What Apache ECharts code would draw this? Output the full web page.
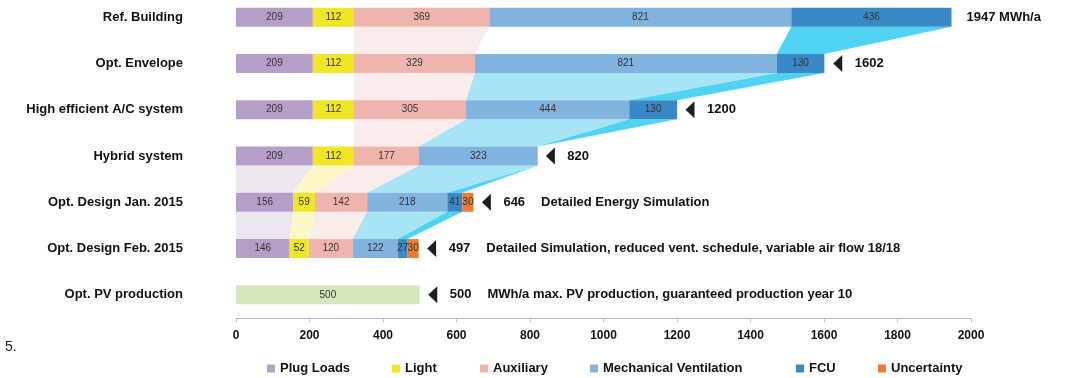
<!DOCTYPE html>
<html>
<head>
<meta charset="utf-8">
<script src="https://cdn.jsdelivr.net/npm/echarts@6/dist/echarts.min.js"></script>
<style>
  html, body { margin: 0; padding: 0; background: #fff; }
  #chart { width: 1066px; height: 378px; }
</style>
</head>
<body>
<div id="chart"></div>
<script>
// Annual energy demand per design stage (MWh/a)
const categories = ['Ref. Building', 'Opt. Envelope', 'High efficient A/C system', 'Hybrid system',
  'Opt. Design Jan. 2015', 'Opt. Design Feb. 2015', 'Opt. PV production'];
const plugLoads   = [209, 209, 209, 209, 156, 146, 0];
const light       = [112, 112, 112, 112, 59, 52, 0];
const auxiliary   = [369, 329, 305, 177, 142, 120, 0];
const mechVent    = [821, 821, 444, 323, 218, 122, 0];
const fcu         = [436, 130, 130, 0, 41, 27, 0];
const uncertainty = [0, 0, 0, 0, 30, 30, 0];
const pvProduction = [0, 0, 0, 0, 0, 0, 500];
const totals      = [1947, 1602, 1200, 820, 646, 497, 500];
const totalUnits  = [' MWh/a', '', '', '', '', '', ''];
const totalNotes  = ['', '', '', '', 'Detailed Energy Simulation',
  'Detailed Simulation, reduced vent. schedule, variable air flow 18/18',
  'MWh/a max. PV production, guaranteed production year 10'];
const hasMarker   = [false, true, true, true, true, true, true];
const seriesNames = ['Plug Loads', 'Light', 'Auxiliary', 'Mechanical Ventilation', 'FCU', 'Uncertainty'];
const xTicks = { min: 0, max: 2000, interval: 200 };

// Transitions drawn between consecutive rows: [upper row, component index]
const flows = [
  [0, 2], [0, 4],
  [1, 2], [1, 3], [1, 4],
  [2, 2], [2, 3], [2, 4],
  [3, 0], [3, 1], [3, 2], [3, 3], [3, 4],
  [4, 0], [4, 1], [4, 2], [4, 3], [4, 4]
];

const colors     = ['#b59fc8', '#f1e623', '#f0b4ae', '#80b3de', '#3a88c5', '#ef7b31'];
const flowColors = ['#ece6ef', '#fbf8c6', '#faecea', '#a7e5f6', '#50d3f3', '#f8cfb0'];
const pvColor = '#d6e7bd';
const BAR_H = 19;

const components = [plugLoads, light, auxiliary, mechVent, fcu, uncertainty];
function startOf(row, k) {
  let s = 0;
  for (let j = 0; j < k; j++) s += components[j][row];
  return s;
}
const flowData = flows.map(([row, k]) => {
  const a = startOf(row, k), b = startOf(row + 1, k);
  return [row, a, a + components[k][row], b, b + components[k][row + 1], k];
});

const labelStyle = { fontFamily: 'Liberation Sans, Arial, sans-serif' };

const barSeries = components.map((vals, k) => ({
  type: 'bar',
  name: seriesNames[k],
  stack: 'energy',
  data: vals,
  barWidth: BAR_H,
  z: 3,
  itemStyle: { color: colors[k] },
  label: {
    show: true, position: 'inside', fontSize: 10, color: '#333', ...labelStyle,
    formatter: p => (p.value ? String(p.value) : '')
  }
}));

barSeries.push({
  type: 'bar',
  name: 'PV production',
  stack: 'energy',
  data: pvProduction,
  barWidth: BAR_H,
  z: 3,
  itemStyle: { color: pvColor },
  label: {
    show: true, position: 'inside', fontSize: 10, color: '#333', ...labelStyle,
    formatter: p => (p.value ? String(p.value) : '')
  }
});

const ribbonSeries = {
  type: 'custom',
  name: 'flows',
  data: flowData,
  encode: { x: [1, 2, 3, 4], y: 0 },
  z: 1,
  silent: true,
  renderItem: (params, api) => {
    const row = api.value(0);
    const half = BAR_H / 2;
    const a0 = api.coord([api.value(1), row]);
    const a1 = api.coord([api.value(2), row]);
    const b0 = api.coord([api.value(3), row + 1]);
    const b1 = api.coord([api.value(4), row + 1]);
    const yt = a0[1] + half, yb = b0[1] - half;
    return {
      type: 'polygon',
      shape: { points: [[a0[0], yt], [a1[0], yt], [b1[0], yb], [b0[0], yb]] },
      style: { fill: flowColors[api.value(5)] }
    };
  }
};

const markerSeries = {
  type: 'scatter',
  name: 'markers',
  z: 4,
  silent: true,
  symbol: 'path://M9,0 L9,17 L0,8.5 Z',
  symbolSize: [9, 17],
  symbolOffset: [13, 0],
  itemStyle: { color: '#1e1e1e', opacity: 1 },
  data: totals.map((t, i) => hasMarker[i] ? [t, i] : null).filter(d => d)
};

const totalSeries = {
  type: 'scatter',
  name: 'totals',
  z: 4,
  silent: true,
  symbolSize: 0,
  itemStyle: { opacity: 1 },
  data: totals.map((t, i) => ({
    value: [t, i],
    label: { distance: hasMarker[i] ? 30 : 15 }
  })),
  label: {
    show: true,
    position: 'right',
    opacity: 1,
    formatter: p => {
      const i = p.value[1];
      let s = '{v|' + totals[i] + totalUnits[i] + '}';
      if (totalNotes[i]) s += '{n|' + totalNotes[i] + '}';
      return s;
    },
    rich: {
      v: { fontSize: 13, fontWeight: 'bold', color: '#111', ...labelStyle },
      n: { fontSize: 13, fontWeight: 'bold', color: '#111', padding: [0, 0, 0, 16], ...labelStyle }
    }
  }
};

const legendLeft = [262, 387, 475, 585, 791, 873];
const legends = seriesNames.map((name, k) => ({
  data: [name],
  left: legendLeft[k],
  top: 357,
  icon: 'rect',
  itemWidth: 8,
  itemHeight: 8,
  itemGap: 0,
  selectedMode: false,
  textStyle: { fontSize: 13, fontWeight: 'bold', color: '#111', ...labelStyle }
}));

const chart = echarts.init(document.getElementById('chart'), null, { renderer: 'canvas' });
chart.setOption({
  animation: false,
  backgroundColor: '#fff',
  grid: { left: 236, right: 95, top: -6, bottom: 60, containLabel: false, outerBoundsMode: 'none' },
  legend: legends,
  xAxis: {
    type: 'value',
    min: xTicks.min, max: xTicks.max, interval: xTicks.interval,
    splitLine: { show: false },
    axisLine: { show: true, lineStyle: { color: '#bdbdbd', width: 1 } },
    axisTick: { show: true, length: 4, lineStyle: { color: '#bdbdbd' } },
    axisLabel: {
      fontSize: 12, fontWeight: 'bold', color: '#111', margin: 12, ...labelStyle,
      formatter: v => String(v)
    }
  },
  yAxis: {
    type: 'category',
    data: categories,
    inverse: true,
    axisLine: { show: false },
    axisTick: { show: false },
    axisLabel: { fontSize: 13, fontWeight: 'bold', color: '#111', margin: 53, ...labelStyle }
  },
  graphic: [{
    type: 'text', left: 5, top: 340,
    style: { text: '5.', fontSize: 14, fill: '#222', ...labelStyle }
  }],
  series: [ribbonSeries, ...barSeries, markerSeries, totalSeries]
});
</script>
</body>
</html>
